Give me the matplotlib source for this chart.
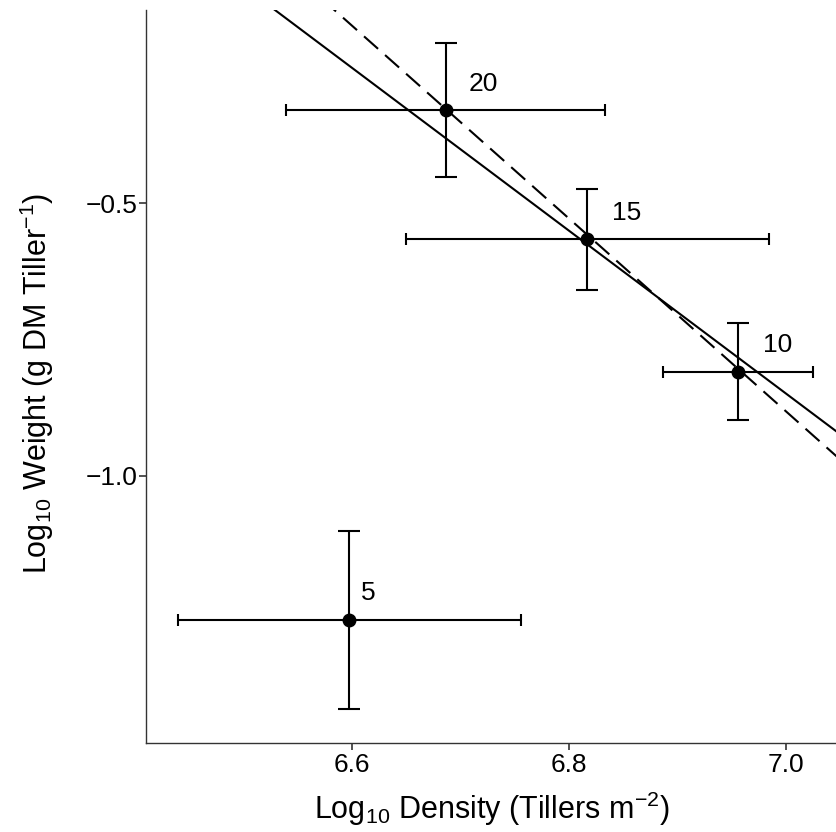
import matplotlib
matplotlib.use("Agg")
import matplotlib.pyplot as plt
import numpy as np

plt.rcParams['font.family'] = ['Liberation Sans', 'DejaVu Sans']
plt.rcParams['mathtext.fontset'] = 'custom'
plt.rcParams['mathtext.rm'] = 'Liberation Sans'
plt.rcParams['mathtext.it'] = 'Liberation Sans'
plt.rcParams['mathtext.default'] = 'regular'

# Data
labels = ["5", "10", "15", "20"]
density = [6.5975, 6.956, 6.8169, 6.6866]
weight = [-1.265, -0.8091, -0.5661, -0.3287]
density_err = [0.158, 0.069, 0.167, 0.147]
weight_err = [0.164, 0.089, 0.093, 0.123]

# fitted lines: intercept, slope
solid_fit = (9.6123, -1.4945)
dashed_fit = (11.506, -1.7697)

label_offsets = [(8.5, 14.8), (17.5, 14), (17.8, 13.9), (16.3, 13.9)]

fig = plt.figure(figsize=(8.37, 8.32), dpi=100)
ax = fig.add_axes([0.1748, 0.1073, 1.0 - 0.1748, 0.988 - 0.1073])

xlim = (6.4104, 7.047)
ylim = (-1.490, -0.1452)
xs = np.array([6.3, 7.2])
ax.plot(xs, solid_fit[0] + solid_fit[1] * xs, color='black', lw=1.5, zorder=2)
ax.plot(xs, dashed_fit[0] + dashed_fit[1] * xs, color='black', lw=1.5,
        linestyle=(0, (9, 4.5)), zorder=2)

ax.errorbar(density, weight, yerr=weight_err, fmt='none', ecolor='black',
            elinewidth=1.5, capsize=7.7, capthick=1.5, zorder=3)
ax.errorbar(density, weight, xerr=density_err, fmt='none', ecolor='black',
            elinewidth=1.5, capsize=4, capthick=1.5, zorder=3)
ax.plot(density, weight, 'o', color='black', markersize=9, zorder=4)

for lab, x, y, off in zip(labels, density, weight, label_offsets):
    ax.annotate(lab, (x, y), xytext=off, textcoords='offset points',
                fontsize=19, ha='left', va='baseline')

ax.set_xlim(*xlim)
ax.set_ylim(*ylim)
ax.set_xticks([6.6, 6.8, 7.0])
ax.set_xticklabels(["6.6", "6.8", "7.0"])
ax.set_yticks([-1.0, -0.5])
ax.set_yticklabels(["\u22121.0", "\u22120.5"])

for s in ['top', 'right']:
    ax.spines[s].set_visible(False)
for s in ['left', 'bottom']:
    ax.spines[s].set_color('#333333')
    ax.spines[s].set_linewidth(1.0)

ax.tick_params(axis='both', direction='out', length=5, width=1.2,
               color='#333333', labelsize=19, labelcolor='black')
ax.tick_params(axis='x', pad=2.5)
ax.tick_params(axis='y', pad=1.5)

ax.set_xlabel("Log$_{10}$ Density (Tillers m$^{-2}$)", fontsize=22, labelpad=9)
ax.set_ylabel("Log$_{10}$ Weight (g DM Tiller$^{-1}$)", fontsize=22, labelpad=21)
ax.yaxis.label.set_y(0.4904)

fig.savefig("out.png", dpi=100)
